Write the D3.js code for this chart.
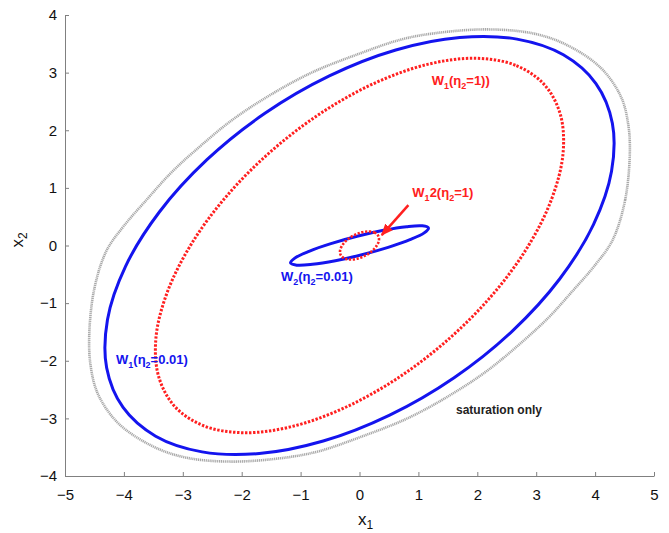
<!DOCTYPE html>
<html><head><meta charset="utf-8">
<script src="https://cdn.jsdelivr.net/npm/d3@7"></script>
<style>body{margin:0;background:#fff}text{font-family:"Liberation Sans",Arial,Helvetica,sans-serif}</style>
</head><body><svg id="c" width="669" height="533"></svg>
<script>
// ---- data ----
const xTicks = [-5,-4,-3,-2,-1,0,1,2,3,4,5];
const yTicks = [-4,-3,-2,-1,0,1,2,3,4];

// "saturation only" boundary (grey)
const satOnly = [[4.30,0.10],[4.51,0.79],[4.59,1.62],[4.56,2.12],[4.44,2.58],[4.10,3.08],[3.52,3.48],[2.95,3.68],[2.16,3.75],[1.25,3.68],[0.69,3.57],[0,3.33],[-0.805,3.004],[-1.51,2.615],[-2.171,2.171],[-2.815,1.625],[-3.22,1.24],[-3.60,0.81],[-4.00,0.34],
  [-4.30,-0.10],[-4.51,-0.79],[-4.59,-1.62],[-4.56,-2.12],[-4.44,-2.58],[-4.10,-3.08],[-3.52,-3.48],[-2.95,-3.68],[-2.16,-3.75],[-1.25,-3.68],[-0.69,-3.57],[0,-3.33],[0.805,-3.004],[1.51,-2.615],[2.171,-2.171],[2.815,-1.625],[3.22,-1.24],[3.60,-0.81],[4.00,-0.34]];

// W1(eta2=0.01) (blue solid)
const w1Eta001 = [[4.014,2.811],[3.461,3.309],[2.673,3.581],[1.702,3.610],[0.616,3.393],[-0.512,2.943],[-1.606,2.294],[-2.590,1.489],[-3.398,0.581],[-3.974,-0.366],[-4.279,-1.287],[-4.293,-2.121],
  [-4.014,-2.811],[-3.461,-3.309],[-2.673,-3.581],[-1.702,-3.610],[-0.616,-3.393],[0.512,-2.943],[1.606,-2.294],[2.590,-1.489],[3.398,-0.581],[3.974,0.366],[4.279,1.287],[4.293,2.121]];

// W1(eta2=1) (red dotted)
const w1Eta1 = [[3.136,2.794],[2.647,3.128],[1.977,3.249],[1.173,3.148],[0.289,2.832],[-0.615,2.324],[-1.477,1.657],[-2.239,0.878],[-2.847,0.038],[-3.261,-0.804],[-3.455,-1.591],[-3.411,-2.270],
  [-3.136,-2.794],[-2.647,-3.128],[-1.977,-3.249],[-1.173,-3.148],[-0.289,-2.832],[0.615,-2.324],[1.477,-1.657],[2.239,-0.878],[2.847,-0.038],[3.261,0.804],[3.455,1.591],[3.411,2.270]];

// W2(eta2=0.01) (small blue)
const w2Eta001 = [[1.171,0.303],[1.066,0.341],[0.799,0.327],[0.410,0.264],[-0.041,0.160],[-0.486,0.032],[-0.857,-0.101],[-1.098,-0.219],[-1.171,-0.303],[-1.066,-0.341],[-0.799,-0.327],[-0.410,-0.264],[0.041,-0.160],[0.486,-0.032],[0.857,0.101],[1.098,0.219]];

// W12(eta2=1) (small red dotted)
const w12Eta1 = [[0.318,0.169],[0.258,0.224],[0.159,0.244],[0.035,0.228],[-0.094,0.177],[-0.209,0.099],[-0.291,0.005],[-0.330,-0.088],[-0.318,-0.169],[-0.258,-0.224],[-0.159,-0.244],[-0.035,-0.228],[0.094,-0.177],[0.209,-0.099],[0.291,-0.005],[0.330,0.088]];

const arrowLine = [[0.83,0.70],[0.377,0.18]];

// annotation labels: parts [text, subscript?]
const labelText = [
  [["W",0],["1",1],["(η",0],["2",1],["=1))",0]],
  [["W",0],["1",1],["2(η",0],["2",1],["=1)",0]],
  [["W",0],["2",1],["(η",0],["2",1],["=0.01)",0]],
  [["W",0],["1",1],["(η",0],["2",1],["=0.01)",0]],
  [["saturation only",0]]
];
const labelPos = [[1.226,2.785],[0.897,0.845],[-1.333,-0.613],[-4.134,-2.064],[1.638,-2.932]];
const labelColor = ["#ff2020","#ff2020","#1414ee","#1414ee","#222222"];

// ---- drawing ----
const svg = d3.select("#c");
const x = d3.scaleLinear().domain([-5,5]).range([65,654]);
const y = d3.scaleLinear().domain([-4,4]).range([476,15]);

const line = d3.line().x(d=>x(d[0])).y(d=>y(d[1])).curve(d3.curveCatmullRomClosed.alpha(0.5));

svg.append("path").datum(satOnly).attr("d",line).attr("fill","none")
  .attr("stroke","#a9a9a9").attr("stroke-width",2.6).attr("stroke-dasharray","1.2,0.7");
svg.append("path").datum(w1Eta001).attr("d",line).attr("fill","none")
  .attr("stroke","#1414ee").attr("stroke-width",3);
svg.append("path").datum(w1Eta1).attr("d",line).attr("fill","none")
  .attr("stroke","#ff2020").attr("stroke-width",3).attr("stroke-dasharray","2.4,1.6");
svg.append("path").datum(w2Eta001).attr("d",line).attr("fill","none")
  .attr("stroke","#1414ee").attr("stroke-width",3);
svg.append("path").datum(w12Eta1).attr("d",line).attr("fill","none")
  .attr("stroke","#ff2020").attr("stroke-width",2.6).attr("stroke-dasharray","2.2,1.6");

// arrow
const defs = svg.append("defs");
defs.append("marker").attr("id","ah").attr("markerUnits","userSpaceOnUse")
  .attr("viewBox","0 0 12 10").attr("refX",11).attr("refY",5)
  .attr("markerWidth",12).attr("markerHeight",10).attr("orient","auto")
  .append("path").attr("d","M0,0 L12,5 L0,10 Z").attr("fill","#ff2020");
svg.append("line")
  .attr("x1",x(arrowLine[0][0])).attr("y1",y(arrowLine[0][1]))
  .attr("x2",x(arrowLine[1][0])).attr("y2",y(arrowLine[1][1]))
  .attr("stroke","#ff2020").attr("stroke-width",2.5).attr("marker-end","url(#ah)");

// labels
labelText.forEach((parts,i)=>{
  const t = svg.append("text").attr("x",x(labelPos[i][0])).attr("y",y(labelPos[i][1]))
    .attr("fill",labelColor[i]).attr("font-size", i===4?12:13).attr("font-weight","bold");
  let prevSub = 0;
  parts.forEach(p=>{
    const ts = t.append("tspan").text(p[0]);
    if(p[1]){ ts.attr("font-size",9).attr("dy",prevSub?0:4); }
    else { ts.attr("dy",prevSub?-4:0); }
    prevSub = p[1];
  });
});

// axes
const gx = svg.append("g").attr("transform","translate(0,476)")
  .call(d3.axisBottom(x).tickValues(xTicks).tickSize(-4).tickPadding(13).tickSizeOuter(0));
const gy = svg.append("g").attr("transform","translate(65,0)")
  .call(d3.axisLeft(y).tickValues(yTicks).tickSize(-4).tickPadding(8).tickSizeOuter(0));
[gx,gy].forEach(g=>{
  g.select(".domain").attr("stroke","#808080");
  g.selectAll(".tick line").attr("stroke","#808080");
  g.selectAll(".tick text").attr("font-size",15).attr("fill","#111")
    .attr("font-family","'Liberation Sans',Arial,sans-serif");
});

// axis titles
const xl = svg.append("text").attr("x",358).attr("y",525).attr("font-size",17).attr("fill","#111");
xl.append("tspan").text("x");
xl.append("tspan").text("1").attr("font-size",12).attr("dy",4);
const yl = svg.append("text").attr("transform","translate(23,240) rotate(-90)")
  .attr("text-anchor","middle").attr("font-size",17).attr("fill","#111");
yl.append("tspan").text("x");
yl.append("tspan").text("2").attr("font-size",12).attr("dy",4);
</script></body></html>
